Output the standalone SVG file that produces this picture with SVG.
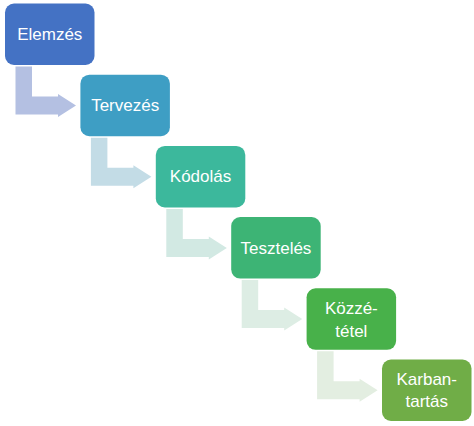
<svg xmlns="http://www.w3.org/2000/svg" width="474" height="426" viewBox="0 0 474 426">
<style>
.box{stroke:none}
.lbl{font-family:"Liberation Sans",Arial,sans-serif;font-size:17px;fill:#ffffff;text-anchor:middle}
</style>
<defs>
<path id="bent" d="M10.5,63 H27 V93 H53 V90.5 L71,102 L53,113.5 V111 H10.5 Z"/>
</defs>
<rect width="474" height="426" fill="#ffffff"/>
<g id="connectors">
<use href="#bent" transform="translate(5,3.5)" fill="#B4C0E2"/>
<use href="#bent" transform="translate(80.4,74.7)" fill="#C3DCE6"/>
<use href="#bent" transform="translate(155.8,145.9)" fill="#D2E9E3"/>
<use href="#bent" transform="translate(231.2,217.1)" fill="#DDEDE4"/>
<use href="#bent" transform="translate(306.6,288.3)" fill="#E3EEE1"/>
</g>
<g id="elemzes">
<rect class="box" x="5" y="3.5" width="89.5" height="61.5" rx="9" fill="#4472C4"/>
<text class="lbl" x="49.75" y="40">Elemzés</text>
</g>
<g id="tervezes">
<rect class="box" x="80.4" y="74.7" width="89.5" height="61.5" rx="9" fill="#3E9EC4"/>
<text class="lbl" x="125.15" y="111.2">Tervezés</text>
</g>
<g id="kodolas">
<rect class="box" x="155.8" y="145.9" width="89.5" height="61.5" rx="9" fill="#3CB89C"/>
<text class="lbl" x="200.55" y="182.4">Kódolás</text>
</g>
<g id="teszteles">
<rect class="box" x="231.2" y="217.1" width="89.5" height="61.5" rx="9" fill="#3DB475"/>
<text class="lbl" x="275.95" y="253.6">Tesztelés</text>
</g>
<g id="kozzetetel">
<rect class="box" x="306.6" y="288.3" width="89.5" height="61.5" rx="9" fill="#48B14A"/>
<text class="lbl" x="351.35" y="313.5">Közzé-</text>
<text class="lbl" x="351.35" y="336.5">tétel</text>
</g>
<g id="karbantartas">
<rect class="box" x="382" y="359.5" width="89.5" height="61.5" rx="9" fill="#70AD47"/>
<text class="lbl" x="426.75" y="384.5">Karban-</text>
<text class="lbl" x="426.75" y="407">tartás</text>
</g>
</svg>
